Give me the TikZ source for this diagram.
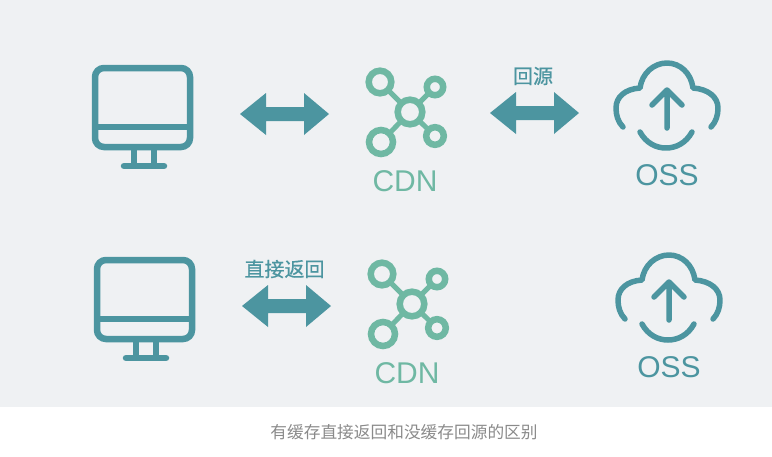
\documentclass[tikz,border=0pt]{standalone}
\usepackage{fontspec}
\setmainfont{Liberation Sans}
\newfontfamily\cjk{Noto Sans CJK SC}
\newfontfamily\cjkmid[FakeBold=0.6]{Noto Sans CJK SC}
\definecolor{bgc}{HTML}{EFF1F3}
\definecolor{teal}{HTML}{4C95A0}
\definecolor{mint}{HTML}{6FB8A3}
\definecolor{capc}{HTML}{8A8A8A}
\tikzset{
  mon/.style={draw=teal,line width=6.5pt},
  arrowfill/.style={fill=teal,draw=none},
  net/.style={draw=mint,line width=6.5pt},
  netlink/.style={draw=mint,line width=5pt},
  cloudline/.style={draw=teal,line width=5.5pt,line cap=round,line join=round},
  cdnlabel/.style={text=mint,font=\fontsize{30}{30}\selectfont,inner sep=0pt},
  osslabel/.style={text=teal,font=\fontsize{30}{30}\selectfont,inner sep=0pt},
  arrowlabel/.style={text=teal,font=\cjkmid\fontsize{20}{20}\selectfont,inner sep=0pt},
}
\newcommand{\iconrow}[1]{%
  % monitor
  \draw[mon,rounded corners=9pt] (95,68) rectangle (190,147);
  \draw[mon] (95,127) -- (190,127);
  \draw[mon] (134,147) -- (134,165) (154,147) -- (154,165);
  \draw[mon,line cap=round] (124,166) -- (164,166);
  % left arrow
  \fill[arrowfill] (240,114) -- (266,93) -- (266,107) -- (304,107) -- (304,93) -- (329,114) -- (304,135) -- (304,121) -- (266,121) -- (266,135) -- cycle;
  % cdn
  \draw[netlink] (380,82) -- (410,112) (435,87) -- (410,112) (381,142) -- (410,112) (435,136) -- (410,112);
  \draw[net,fill=bgc] (410,112) circle (12.3pt);
  \draw[net,fill=bgc] (380,82) circle (11.3pt);
  \draw[net,fill=bgc] (435,87) circle (8.2pt);
  \draw[net,fill=bgc] (381,142) circle (12pt);
  \draw[net,fill=bgc] (435,136) circle (8.8pt);
  \node[cdnlabel] (cdn#1) at (405,181.5) {CDN};
  % cloud
  \draw[cloudline] (623,127) .. controls (618,122) and (616,115) .. (616,108) .. controls (616,97) and (625,89) .. (640,88) .. controls (642,73) and (654,63) .. (667,63) .. controls (680,63) and (691,73) .. (693,88) .. controls (708,89) and (718,97) .. (718,108) .. controls (718,115) and (716,122) .. (711,127);
  \draw[cloudline] (640,132) .. controls (646,143) and (656,148) .. (666,148) .. controls (676,148) and (686,143) .. (692,132);
  \draw[cloudline] (667,128) -- (667,90) (652,105) -- (667,90) -- (682,105);
  \node[osslabel] (oss#1) at (667,175.5) {OSS};
}
\begin{document}
\begin{tikzpicture}[x=1pt,y=-1pt]
\useasboundingbox (0,0) rectangle (772,456);
\fill[bgc] (0,0) rectangle (772,407);
\begin{scope}
  \iconrow{a}
\end{scope}
\begin{scope}[shift={(2,192)}]
  \iconrow{b}
\end{scope}
\fill[arrowfill] (490,113) -- (516,92) -- (516,106) -- (554,106) -- (554,92) -- (579,113) -- (554,134) -- (554,120) -- (516,120) -- (516,134) -- cycle;
\node[arrowlabel] (huiyuan) at (533,76) {回源};
\node[arrowlabel] (zhijie) at (284.5,269) {直接返回};
\node[inner sep=0pt,text=capc,font=\cjk\fontsize{16.7}{17}\selectfont] (caption) at (404,432) {有缓存直接返回和没缓存回源的区别};
\end{tikzpicture}
\end{document}
